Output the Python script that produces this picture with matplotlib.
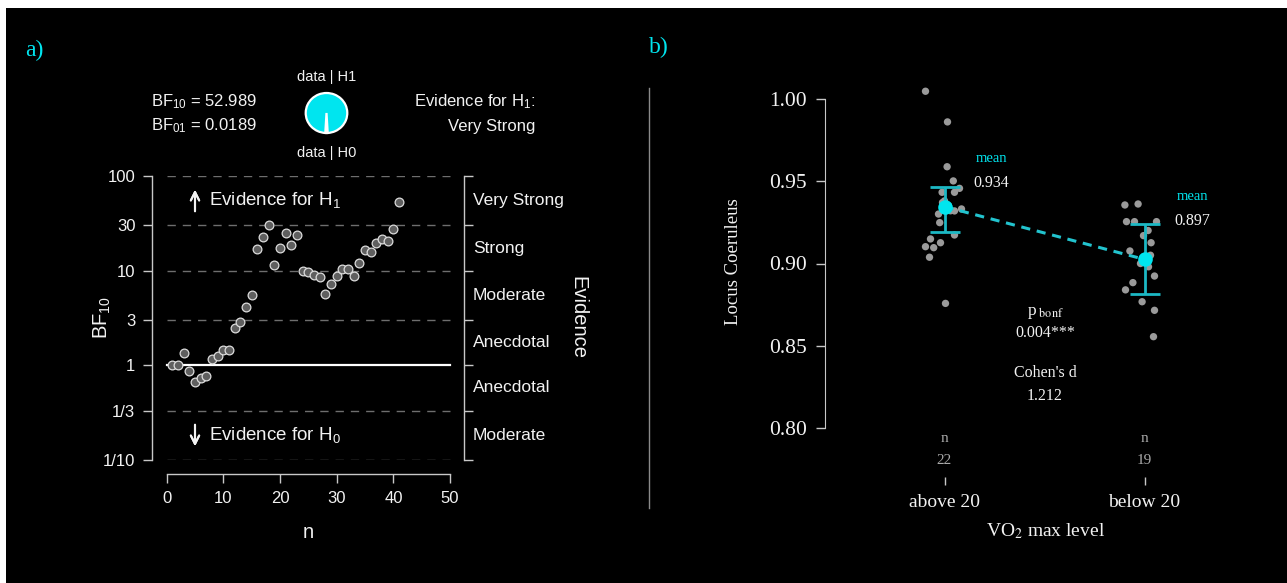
import matplotlib
matplotlib.use('Agg')
import matplotlib.pyplot as plt
from matplotlib.patches import Rectangle
from matplotlib.lines import Line2D
from matplotlib.ticker import NullLocator, FixedLocator

plt.rcParams['mathtext.fontset'] = 'custom'
plt.rcParams['mathtext.rm'] = 'Liberation Sans'
plt.rcParams['mathtext.it'] = 'Liberation Sans:italic'
plt.rcParams['mathtext.bf'] = 'Liberation Sans:bold'

# ---- data: panel a (sequential Bayes factor) ----
n_obs = list(range(1, 42))
bf10_seq = [1.0, 1.0, 1.36, 0.88, 0.67, 0.74, 0.77, 1.17, 1.27, 1.45,
            1.45, 2.47, 2.89, 4.17, 5.58, 16.9, 22.9, 30.6, 11.5, 17.2,
            24.8, 18.8, 23.8, 9.93, 9.77, 9.0, 8.5, 5.71, 7.24, 8.79,
            10.4, 10.3, 8.73, 12.0, 16.7, 15.9, 19.5, 21.5, 20.8, 27.8, 52.989]
bf10_final = 52.989
bf01_final = 0.0189
y_ticks = [100, 30, 10, 3, 1, 1 / 3, 1 / 10]
y_ticklabels = ['100', '30', '10', '3', '1', '1/3', '1/10']
evidence_bounds = [100, 30, 10, 3, 1, 1 / 3, 1 / 10]
evidence_labels = ['Very Strong', 'Strong', 'Moderate', 'Anecdotal', 'Anecdotal', 'Moderate']

# ---- data: panel b (descriptives plot) ----
groups = ['above 20', 'below 20']
group_n = [22, 19]
above_vals = [1.0045, 0.9859, 0.9587, 0.9501, 0.9456, 0.9432, 0.9432, 0.9331, 0.9319, 0.9248, 0.9173,
              0.9149, 0.9126, 0.9102, 0.9096, 0.9038, 0.8758, 0.935, 0.937, 0.932, 0.938, 0.930]
above_jitter = [-0.095, 0.015, 0.013, 0.044, 0.075, -0.012, 0.05, 0.085, 0.05, -0.024, 0.05,
                -0.07, -0.02, -0.095, -0.054, -0.075, 0.005, 0.02, -0.01, 0.03, 0.0, -0.03]
below_vals = [0.9355, 0.9361, 0.9254, 0.9254, 0.9254, 0.92, 0.9169, 0.9126, 0.9076, 0.8924,
              0.8884, 0.884, 0.8768, 0.8716, 0.8556, 0.903, 0.900, 0.898, 0.905]
below_jitter = [-0.098, -0.032, -0.09, -0.05, 0.06, 0.018, -0.005, 0.033, -0.073, 0.05,
                -0.058, -0.095, -0.012, 0.05, 0.045, 0.0, -0.02, 0.02, 0.03]
group_means = [0.9345, 0.9025]
mean_labels = ['0.934', '0.897']
ci_low = [0.9189, 0.8813]
ci_high = [0.9462, 0.9238]
p_bonf = '0.004***'
cohens_d = '1.212'

W, H = 1287, 583
CYAN = '#00e5ef'
TEAL = '#1cb8c4'
FG = '#f2f2f2'
SPINE = '#c8c8c8'


def rect(x0, y0, x1, y1):
    # pixel box (from top-left) -> figure fraction rect
    return [x0 / W, 1 - y1 / H, (x1 - x0) / W, (y1 - y0) / H]


def fx(px):
    return px / W


def fy(py):
    return 1 - py / H


fig = plt.figure(figsize=(W / 100, H / 100), dpi=100, facecolor='white')
fig.add_artist(Rectangle((6 / W, 0), 1, 1 - 8 / H, transform=fig.transFigure,
                         facecolor='black', edgecolor='none', zorder=-10))

sans = 'Liberation Sans'
serif = 'Liberation Serif'

# ================= panel a =================
fig.text(fx(25), fy(50), 'a)', color=CYAN, fontsize=17, family=serif, va='center', ha='left')

ax = fig.add_axes(rect(152, 176, 464, 460))
ax.set_facecolor('none')
ax.set_yscale('log')
ax.set_xlim(-2.594, 52.46)
ax.set_ylim(0.1, 100)
ax.yaxis.set_minor_locator(NullLocator())
ax.yaxis.set_major_locator(FixedLocator(y_ticks))
ax.set_yticklabels(y_ticklabels)
ax.set_xticks([0, 10, 20, 30, 40, 50])
for s in ['left', 'right', 'bottom']:
    ax.spines[s].set_color(SPINE)
    ax.spines[s].set_linewidth(1.0)
ax.spines['top'].set_visible(False)
ax.spines['bottom'].set_position(('outward', 10.1))
ax.spines['bottom'].set_bounds(0, 50)
ax.tick_params(axis='both', colors=SPINE, labelcolor=FG, labelsize=12, length=6.5, width=1.0)
ax.tick_params(axis='y', pad=5.5, right=True, labelright=False)
ax.tick_params(axis='x', pad=5.5)
for lab in ax.get_xticklabels() + ax.get_yticklabels():
    lab.set_family(sans)

for b in [100, 30, 10, 3, 1 / 3, 1 / 10]:
    ax.plot([0, 50], [b, b], color='#6e6e6e', lw=1.0, ls=(0, (6, 5)), zorder=1)
ax.plot([0, 50], [1, 1], color='white', lw=1.6, zorder=2)
ax.plot(n_obs, bf10_seq, 'o', ms=6.3, mfc='#5f5f5f', mec='#dcdcdc', mew=0.9, zorder=3)

for i, lab in enumerate(evidence_labels):
    ymid = (evidence_bounds[i] * evidence_bounds[i + 1]) ** 0.5
    ax.text(54.05, ymid, lab, color=FG, fontsize=12.5, family=sans, va='center', ha='left', clip_on=False)

fig.text(fx(578), fy(318), 'Evidence', color=FG, fontsize=14.5, family=sans, rotation=270, va='center', ha='center')
fig.text(fx(102), fy(318), 'BF$_{10}$', color=FG, fontsize=14.5, family=sans, rotation=90, va='center', ha='center')
fig.text(fx(308), fy(532), 'n', color=FG, fontsize=14.5, family=sans, va='center', ha='center')

fig.text(fx(209), fy(200), 'Evidence for H$_1$', color=FG, fontsize=13.5, family=sans, va='center', ha='left')
fig.text(fx(209), fy(435), 'Evidence for H$_0$', color=FG, fontsize=13.5, family=sans, va='center', ha='left')
fig.add_artist(plt.annotate('', xy=(fx(195), fy(187)), xytext=(fx(195), fy(214)),
                            xycoords='figure fraction', textcoords='figure fraction',
                            arrowprops=dict(arrowstyle='->', color=FG, lw=1.5,
                                            mutation_scale=15)))
fig.add_artist(plt.annotate('', xy=(fx(195), fy(449)), xytext=(fx(195), fy(422)),
                            xycoords='figure fraction', textcoords='figure fraction',
                            arrowprops=dict(arrowstyle='->', color=FG, lw=1.5,
                                            mutation_scale=15)))

fig.text(fx(151), fy(102), 'BF$_{10}$ = %.3f' % bf10_final, color=FG, fontsize=12, family=sans, va='center', ha='left')
fig.text(fx(151), fy(126), 'BF$_{01}$ = %.4f' % bf01_final, color=FG, fontsize=12, family=sans, va='center', ha='left')
fig.text(fx(535), fy(102), 'Evidence for H$_1$:', color=FG, fontsize=12, family=sans, va='center', ha='right')
fig.text(fx(535), fy(126), 'Very Strong', color=FG, fontsize=12, family=sans, va='center', ha='right')
fig.text(fx(326.5), fy(77), 'data | H1', color=FG, fontsize=10.5, family=sans, va='center', ha='center')
fig.text(fx(326.5), fy(153), 'data | H0', color=FG, fontsize=10.5, family=sans, va='center', ha='center')

p_h1 = bf10_final / (1 + bf10_final)
p_h0 = 1 - p_h1
pie_ax = fig.add_axes(rect(300.5, 88, 352.5, 138))
pie_ax.pie([p_h0, p_h1], colors=['white', CYAN], startangle=270 - p_h0 * 180,
           wedgeprops=dict(edgecolor='white', linewidth=1.6))
pie_ax.set_aspect('auto')
pie_ax.set_facecolor('none')

# ================= panel b =================
fig.text(fx(649), fy(47), 'b)', color=CYAN, fontsize=17, family=serif, va='center', ha='left')
fig.add_artist(Line2D([fx(649), fx(649)], [fy(88), fy(508)], color='#8a8a8a', lw=1.0,
                      transform=fig.transFigure))

bx = fig.add_axes(rect(824.5, 65.7, 1264.5, 461.3))
bx.set_facecolor('none')
bx.set_xlim(-0.6, 1.6)
bx.set_ylim(0.78, 1.02)
bx.spines['top'].set_visible(False)
bx.spines['right'].set_visible(False)
bx.spines['left'].set_color(SPINE)
bx.spines['left'].set_bounds(0.8, 1.0)
bx.spines['bottom'].set_color('none')
bx.spines['bottom'].set_position(('outward', 11.1))
bx.set_yticks([0.80, 0.85, 0.90, 0.95, 1.00])
bx.set_yticklabels(['0.80', '0.85', '0.90', '0.95', '1.00'])
bx.set_xticks([0, 1])
bx.set_xticklabels(groups)
bx.tick_params(axis='y', colors=SPINE, labelcolor=FG, labelsize=15.5, length=6.5, width=1.0, pad=6)
bx.tick_params(axis='x', colors=SPINE, labelcolor=FG, labelsize=14, length=6, width=1.0, pad=6.5)
for lab in bx.get_xticklabels() + bx.get_yticklabels():
    lab.set_family(serif)

bx.scatter([0 + j for j in above_jitter], above_vals, s=28, color='#9a9a9a', edgecolor='none', zorder=2)
bx.scatter([1 + j for j in below_jitter], below_vals, s=28, color='#9a9a9a', edgecolor='none', zorder=2)
bx.plot([0, 1], group_means, color='#22c3ce', lw=2.2, ls=(0, (3, 2.2)), zorder=3)
bx.errorbar([0, 1], group_means,
            yerr=[[m - lo for m, lo in zip(group_means, ci_low)],
                  [hi - m for m, hi in zip(group_means, ci_high)]],
            fmt='none', ecolor=TEAL, elinewidth=2.0, capsize=10.5, capthick=2.0, zorder=4)
bx.plot([0, 1], group_means, 'o', ms=10.5, color=CYAN, mec='none', zorder=5)

fig.text(fx(733), fy(262), 'Locus Coeruleus', color=FG, fontsize=13.5, family=serif, rotation=90, va='center', ha='center')
fig.text(fx(1046), fy(531), 'VO$_2$ max level', color=FG, fontsize=14, family=serif, va='center', ha='center',
         math_fontfamily='stix')

for gx, nval in zip([944, 1144], group_n):
    fig.text(fx(gx), fy(438), 'n', color='#aaaaaa', fontsize=11, family=serif, va='center', ha='center')
    fig.text(fx(gx), fy(460), str(nval), color='#aaaaaa', fontsize=11, family=serif, va='center', ha='center')

for (mx, my), lab in zip([(991, 159), (1192, 197)], mean_labels):
    fig.text(fx(mx), fy(my), 'mean', color=CYAN, fontsize=10.5, family=serif, va='center', ha='center')
    fig.text(fx(mx), fy(my + 24), lab, color=FG, fontsize=11.5, family=serif, va='center', ha='center')

fig.text(fx(1045), fy(313), 'p$_{\\ \\mathrm{bonf}}$', color=FG, fontsize=12.5, family=serif, va='center', ha='center',
         math_fontfamily='stix')
fig.text(fx(1045), fy(333), p_bonf, color=FG, fontsize=11.5, family=serif, va='center', ha='center')
fig.text(fx(1045), fy(373), "Cohen's d", color=FG, fontsize=11.5, family=serif, va='center', ha='center')
fig.text(fx(1045), fy(396), cohens_d, color=FG, fontsize=11.5, family=serif, va='center', ha='center')

fig.savefig('out.png', dpi=100, facecolor='white')
